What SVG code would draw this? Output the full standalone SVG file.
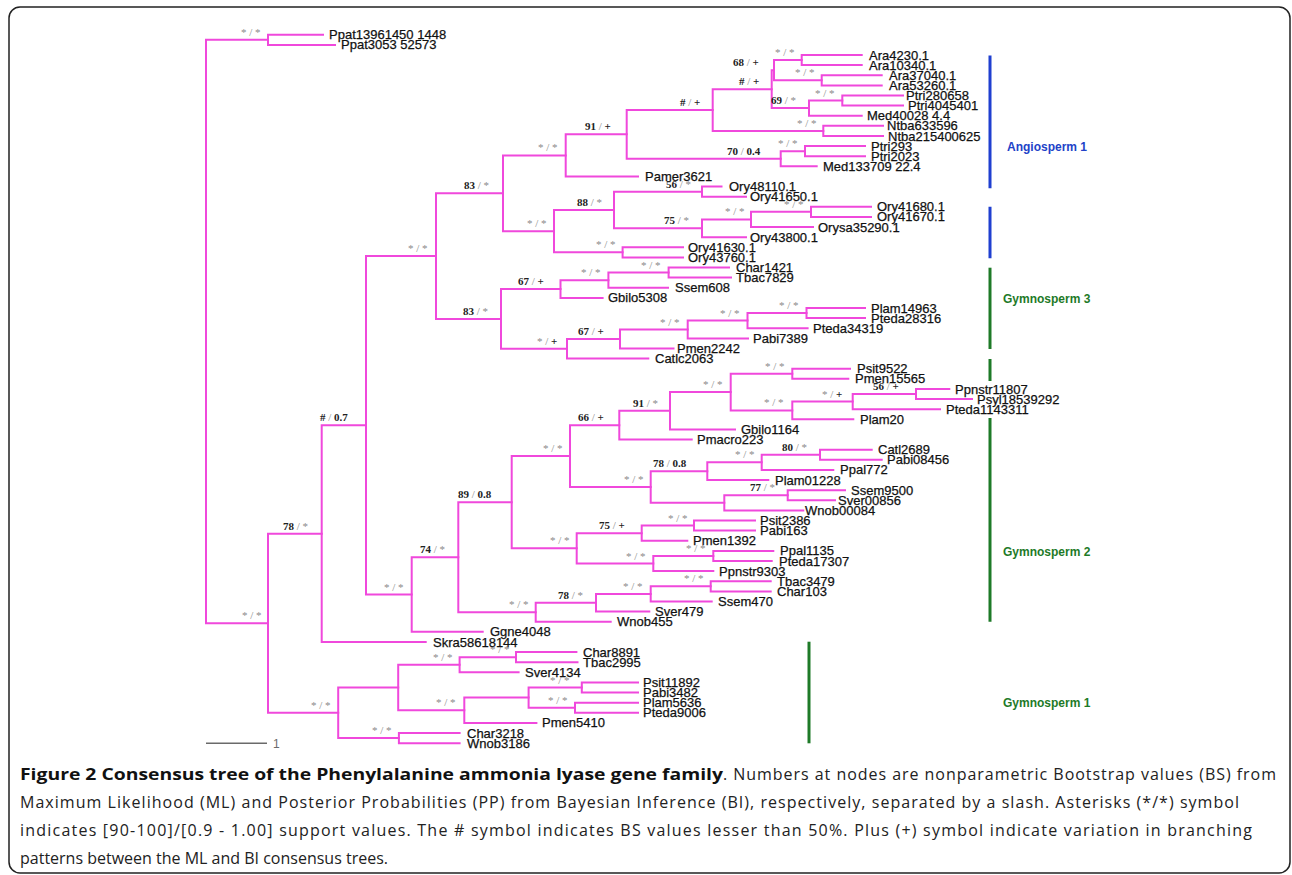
<svg xmlns="http://www.w3.org/2000/svg" width="1292" height="875" viewBox="0 0 1292 875">
<style>
.br{fill:none;stroke:#f048dc;stroke-width:2;stroke-linejoin:miter;stroke-linecap:square}
.lf{font-family:"Liberation Sans",Arial,sans-serif;font-size:13px;fill:#111;stroke:#111;stroke-width:0.25}
.sp{font-family:"Liberation Serif","Times New Roman",serif;font-size:11px;fill:#8a8a8a}
.b{font-weight:bold;fill:#222}
.grp{font-family:"Liberation Sans",Arial,sans-serif;font-size:12px;font-weight:bold}
.cap{font-family:"Open Sans","Noto Sans",sans-serif;font-size:16px;fill:#222}
</style>
<rect x="9" y="7" width="1281" height="866" rx="11" ry="11" fill="#fff" stroke="#222" stroke-width="1.5"/>

<g id="branches" class="br">
<path d="M323,34.8 H268 V44.9 H335"/>
<path d="M268,39.85 H206 V623.2 H268"/>
<path d="M861.7,55 H801.7 V65.1 H861.7"/>
<path d="M881.7,75.2 H821.7 V85.4 H881.7"/>
<path d="M801.7,60.05 H774 V80.3 H821.7"/>
<path d="M903,95.5 H842.3 V105.6 H903"/>
<path d="M842.3,100.55 H809 V115.7 H861.7"/>
<path d="M774,70.2 H771.7 V108.1 H809"/>
<path d="M883,125.8 H823.3 V136 H883"/>
<path d="M771.7,89.15 H712.7 V130.9 H823.3"/>
<path d="M865,146.1 H805 V156.2 H865"/>
<path d="M805,151.15 H780.7 V166.3 H816.7"/>
<path d="M712.7,110 H626.7 V158.7 H780.7"/>
<path d="M626.7,134.35 H565.7 V176.4 H638"/>
<path d="M721.5,186.6 H702 V196.7 H746"/>
<path d="M871,206.8 H811 V216.9 H871"/>
<path d="M811,211.85 H751 V227 H813"/>
<path d="M751,219.4 H702 V237.2 H746"/>
<path d="M702,191.65 H614 V228.3 H702"/>
<path d="M683,247.3 H622.6 V257.4 H683"/>
<path d="M614,210 H554 V252.35 H622.6"/>
<path d="M565.7,155.4 H503 V231.2 H554"/>
<path d="M729,267.5 H668.6 V277.6 H731"/>
<path d="M668.6,272.55 H608.4 V287.8 H668"/>
<path d="M608.4,280.2 H560.5 V297.9 H602.6"/>
<path d="M865,308 H806.5 V318.1 H865"/>
<path d="M806.5,313.05 H747.5 V328.2 H807.6"/>
<path d="M747.5,320.6 H687.7 V338.4 H748"/>
<path d="M687.7,329.5 H620 V348.5 H673.5"/>
<path d="M620,339 H567 V358.6 H648.3"/>
<path d="M560.5,289.05 H501 V348.8 H567"/>
<path d="M503,193.3 H436 V318.9 H501"/>
<path d="M850,368.7 H792.3 V378.8 H848.3"/>
<path d="M949.3,389 H916 V399.1 H972"/>
<path d="M916,394.05 H852.7 V409.2 H940"/>
<path d="M852.7,401.6 H792.3 V419.3 H853.3"/>
<path d="M792.3,373.75 H730.7 V410.45 H792.3"/>
<path d="M730.7,392.1 H670 V429.4 H735"/>
<path d="M670,410.75 H619.3 V439.6 H691.7"/>
<path d="M871.7,449.7 H820 V459.8 H881.7"/>
<path d="M820,454.75 H761.7 V469.9 H833.3"/>
<path d="M761.7,462.3 H707.3 V480 H768.3"/>
<path d="M845,490.2 H787.7 V500.3 H835"/>
<path d="M787.7,495.25 H724.3 V510.4 H803.3"/>
<path d="M707.3,471.15 H650.7 V502.8 H724.3"/>
<path d="M619.3,425.2 H570 V487 H650.7"/>
<path d="M755,520.5 H694 V530.6 H755"/>
<path d="M694,525.55 H641.7 V540.8 H687.3"/>
<path d="M773.3,550.9 H713.3 V561 H771.7"/>
<path d="M713.3,555.95 H653.3 V571.1 H713.3"/>
<path d="M641.7,533.2 H576.7 V563.5 H653.3"/>
<path d="M570,456.1 H511.7 V548.35 H576.7"/>
<path d="M770.7,581.2 H710.7 V591.4 H770.7"/>
<path d="M710.7,586.3 H650.7 V601.5 H711.7"/>
<path d="M650.7,593.9 H596 V611.6 H649.3"/>
<path d="M596,602.75 H535.7 V621.7 H610.7"/>
<path d="M511.7,502.2 H458.3 V612.2 H535.7"/>
<path d="M458.3,557.2 H411.7 V631.8 H482.7"/>
<path d="M436,256.1 H366 V594.5 H411.7"/>
<path d="M366,425.3 H321.7 V642 H425.7"/>
<path d="M576.4,652.1 H516 V662.2 H577.5"/>
<path d="M516,657.15 H459.6 V672.3 H518.6"/>
<path d="M638,682.4 H581.8 V692.6 H638"/>
<path d="M638,702.7 H575 V712.8 H638"/>
<path d="M581.8,687.5 H528.6 V707.75 H575"/>
<path d="M528.6,697.6 H464.3 V722.9 H536.4"/>
<path d="M459.6,664.7 H398.2 V710.25 H464.3"/>
<path d="M459.6,733 H398.9 V743.2 H459.6"/>
<path d="M398.2,687.5 H338.2 V738.1 H398.9"/>
<path d="M321.7,533.65 H268 V712.8 H338.2"/>
</g>

<g id="support-labels" class="sp">
<g id="n-ppat"><text x="241" y="35.8">* / *</text></g>
<g id="n-a68"><text x="733" y="66.2"><tspan class="b">68</tspan> / <tspan class="b">+</tspan></text></g>
<g id="n-ah1"><text x="739" y="85.1"><tspan class="b">#</tspan> / <tspan class="b">+</tspan></text></g>
<g id="n-ah2"><text x="680" y="106"><tspan class="b">#</tspan> / <tspan class="b">+</tspan></text></g>
<g id="n-a69"><text x="771" y="104.1"><tspan class="b">69</tspan> / *</text></g>
<g id="n-a1"><text x="775" y="56">* / *</text></g>
<g id="n-a2"><text x="795" y="76.3">* / *</text></g>
<g id="n-p1"><text x="815" y="96.5">* / *</text></g>
<g id="n-n1"><text x="797" y="126.9">* / *</text></g>
<g id="n-a70"><text x="727" y="154.7"><tspan class="b">70</tspan> / <tspan class="b">0.4</tspan></text></g>
<g id="n-p2"><text x="778" y="147.1">* / *</text></g>
<g id="n-a91"><text x="585" y="130.3"><tspan class="b">91</tspan> / <tspan class="b">+</tspan></text></g>
<g id="n-as"><text x="538" y="151.4">* / *</text></g>
<g id="n-a83"><text x="464" y="189.3"><tspan class="b">83</tspan> / *</text></g>
<g id="n-o88"><text x="577" y="206"><tspan class="b">88</tspan> / *</text></g>
<g id="n-o56"><text x="666" y="187.6"><tspan class="b">56</tspan> / *</text></g>
<g id="n-o75"><text x="664" y="224.3"><tspan class="b">75</tspan> / *</text></g>
<g id="n-o2"><text x="725" y="215.4">* / *</text></g>
<g id="n-o3"><text x="784" y="207.8">* / *</text></g>
<g id="n-os"><text x="527" y="227.2">* / *</text></g>
<g id="n-o4"><text x="596" y="248.3">* / *</text></g>
<g id="n-n436"><text x="408" y="252.1">* / *</text></g>
<g id="n-g83"><text x="463" y="314.9"><tspan class="b">83</tspan> / *</text></g>
<g id="n-g67a"><text x="518" y="285"><tspan class="b">67</tspan> / <tspan class="b">+</tspan></text></g>
<g id="n-g2"><text x="581" y="276.2">* / *</text></g>
<g id="n-g1"><text x="641" y="268.5">* / *</text></g>
<g id="n-gsp"><text x="537" y="344.8">* / <tspan class="b">+</tspan></text></g>
<g id="n-g67b"><text x="578" y="335"><tspan class="b">67</tspan> / <tspan class="b">+</tspan></text></g>
<g id="n-g5"><text x="660" y="325.5">* / *</text></g>
<g id="n-g4"><text x="720" y="316.6">* / *</text></g>
<g id="n-g3"><text x="779" y="309">* / *</text></g>
<g id="n-n366"><text x="320" y="421.3"><tspan class="b">#</tspan> / <tspan class="b">0.7</tspan></text></g>
<g id="n-q66"><text x="578" y="421.2"><tspan class="b">66</tspan> / <tspan class="b">+</tspan></text></g>
<g id="n-q91"><text x="633" y="406.7"><tspan class="b">91</tspan> / *</text></g>
<g id="n-q4"><text x="703" y="388.1">* / *</text></g>
<g id="n-q1"><text x="765" y="369.7">* / *</text></g>
<g id="n-q3"><text x="764" y="406.4">* / *</text></g>
<g id="n-q2"><text x="822" y="397.6">* / <tspan class="b">+</tspan></text></g>
<g id="n-q56"><text x="873" y="390"><tspan class="b">56</tspan> / <tspan class="b">+</tspan></text></g>
<g id="n-qs"><text x="543" y="452.1">* / *</text></g>
<g id="n-r4"><text x="624" y="483">* / *</text></g>
<g id="n-r78"><text x="653" y="467.1"><tspan class="b">78</tspan> / <tspan class="b">0.8</tspan></text></g>
<g id="n-r2"><text x="735" y="458.3">* / *</text></g>
<g id="n-r1"><text x="782" y="450.7"><tspan class="b">80</tspan> / *</text></g>
<g id="n-r77"><text x="750" y="491.2"><tspan class="b">77</tspan> / *</text></g>
<g id="n-n89"><text x="458" y="498.2"><tspan class="b">89</tspan> / <tspan class="b">0.8</tspan></text></g>
<g id="n-n74"><text x="420" y="553.2"><tspan class="b">74</tspan> / *</text></g>
<g id="n-ss"><text x="550" y="544.3">* / *</text></g>
<g id="n-s75"><text x="599" y="529.2"><tspan class="b">75</tspan> / <tspan class="b">+</tspan></text></g>
<g id="n-s1"><text x="668" y="521.5">* / *</text></g>
<g id="n-s3"><text x="626" y="559.5">* / *</text></g>
<g id="n-s2"><text x="686" y="552">* / *</text></g>
<g id="n-ts"><text x="509" y="608.2">* / *</text></g>
<g id="n-t78"><text x="558" y="598.7"><tspan class="b">78</tspan> / *</text></g>
<g id="n-t2"><text x="623" y="589.9">* / *</text></g>
<g id="n-t1"><text x="684" y="582.3">* / *</text></g>
<g id="n-n411"><text x="384" y="590.5">* / *</text></g>
<g id="n-n78"><text x="283" y="529.6"><tspan class="b">78</tspan> / *</text></g>
<g id="n-n268"><text x="242" y="619.2">* / *</text></g>
<g id="n-gs1"><text x="311" y="708.8">* / *</text></g>
<g id="n-u2"><text x="433" y="660.7">* / *</text></g>
<g id="n-u1"><text x="490" y="653.1">* / *</text></g>
<g id="n-v4"><text x="436" y="706.2">* / *</text></g>
<g id="n-v2"><text x="548" y="703.7">* / *</text></g>
<g id="n-v1"><text x="550" y="683.5">* / *</text></g>
<g id="n-w1"><text x="372" y="734.1">* / *</text></g>
</g>

<g id="leaves" class="lf">
<g id="leaf-Ppat13961450"><text x="329" y="39.3">Ppat13961450 1448</text></g>
<g id="leaf-Ppat3053"><text x="341" y="49.4">Ppat3053 52573</text></g>
<g id="leaf-Ara4230"><text x="869" y="59.5">Ara4230.1</text></g>
<g id="leaf-Ara10340"><text x="869" y="69.6">Ara10340.1</text></g>
<g id="leaf-Ara37040"><text x="889" y="79.7">Ara37040.1</text></g>
<g id="leaf-Ara53260"><text x="889" y="89.9">Ara53260.1</text></g>
<g id="leaf-Ptri280658"><text x="906" y="100">Ptri280658</text></g>
<g id="leaf-Ptri4045401"><text x="908" y="110.1">Ptri4045401</text></g>
<g id="leaf-Med40028"><text x="867" y="120.2">Med40028 4.4</text></g>
<g id="leaf-Ntba633596"><text x="887" y="130.3">Ntba633596</text></g>
<g id="leaf-Ntba215400625"><text x="888" y="140.5">Ntba215400625</text></g>
<g id="leaf-Ptri293"><text x="871" y="150.6">Ptri293</text></g>
<g id="leaf-Ptri2023"><text x="871" y="160.7">Ptri2023</text></g>
<g id="leaf-Med133709"><text x="823" y="170.8">Med133709 22.4</text></g>
<g id="leaf-Pamer3621"><text x="645" y="180.9">Pamer3621</text></g>
<g id="leaf-Ory48110"><text x="729" y="191.1">Ory48110.1</text></g>
<g id="leaf-Ory41650"><text x="750" y="201.2">Ory41650.1</text></g>
<g id="leaf-Ory41680"><text x="877" y="211.3">Ory41680.1</text></g>
<g id="leaf-Ory41670"><text x="877" y="221.4">Ory41670.1</text></g>
<g id="leaf-Orysa35290"><text x="818" y="231.5">Orysa35290.1</text></g>
<g id="leaf-Ory43800"><text x="750" y="241.7">Ory43800.1</text></g>
<g id="leaf-Ory41630"><text x="688" y="251.8">Ory41630.1</text></g>
<g id="leaf-Ory43760"><text x="688" y="261.9">Ory43760.1</text></g>
<g id="leaf-Char1421"><text x="736" y="272">Char1421</text></g>
<g id="leaf-Tbac7829"><text x="736" y="282.1">Tbac7829</text></g>
<g id="leaf-Ssem608"><text x="675" y="292.3">Ssem608</text></g>
<g id="leaf-Gbilo5308"><text x="608" y="302.4">Gbilo5308</text></g>
<g id="leaf-Plam14963"><text x="871" y="312.5">Plam14963</text></g>
<g id="leaf-Pteda28316"><text x="871" y="322.6">Pteda28316</text></g>
<g id="leaf-Pteda34319"><text x="813" y="332.7">Pteda34319</text></g>
<g id="leaf-Pabi7389"><text x="753" y="342.9">Pabi7389</text></g>
<g id="leaf-Pmen2242"><text x="677" y="353">Pmen2242</text></g>
<g id="leaf-Catlc2063"><text x="655" y="363.1">Catlc2063</text></g>
<g id="leaf-Psit9522"><text x="857" y="373.2">Psit9522</text></g>
<g id="leaf-Pmen15565"><text x="855" y="383.3">Pmen15565</text></g>
<g id="leaf-Ppnstr11807"><text x="955" y="393.5">Ppnstr11807</text></g>
<g id="leaf-Psyl18539292"><text x="977" y="403.6">Psyl18539292</text></g>
<g id="leaf-Pteda1143311"><text x="946" y="413.7">Pteda1143311</text></g>
<g id="leaf-Plam20"><text x="860" y="423.8">Plam20</text></g>
<g id="leaf-Gbilo1164"><text x="741" y="433.9">Gbilo1164</text></g>
<g id="leaf-Pmacro223"><text x="697" y="444.1">Pmacro223</text></g>
<g id="leaf-Catl2689"><text x="878" y="454.2">Catl2689</text></g>
<g id="leaf-Pabi08456"><text x="887" y="464.3">Pabi08456</text></g>
<g id="leaf-Ppal772"><text x="840" y="474.4">Ppal772</text></g>
<g id="leaf-Plam01228"><text x="775" y="484.5">Plam01228</text></g>
<g id="leaf-Ssem9500"><text x="851" y="494.7">Ssem9500</text></g>
<g id="leaf-Sver00856"><text x="838" y="504.8">Sver00856</text></g>
<g id="leaf-Wnob00084"><text x="805" y="514.9">Wnob00084</text></g>
<g id="leaf-Psit2386"><text x="760" y="525">Psit2386</text></g>
<g id="leaf-Pabi163"><text x="760" y="535.1">Pabi163</text></g>
<g id="leaf-Pmen1392"><text x="693" y="545.3">Pmen1392</text></g>
<g id="leaf-Ppal1135"><text x="780" y="555.4">Ppal1135</text></g>
<g id="leaf-Pteda17307"><text x="779" y="565.5">Pteda17307</text></g>
<g id="leaf-Ppnstr9303"><text x="719" y="575.6">Ppnstr9303</text></g>
<g id="leaf-Tbac3479"><text x="777" y="585.7">Tbac3479</text></g>
<g id="leaf-Char103"><text x="777" y="595.9">Char103</text></g>
<g id="leaf-Ssem470"><text x="718" y="606">Ssem470</text></g>
<g id="leaf-Sver479"><text x="655" y="616.1">Sver479</text></g>
<g id="leaf-Wnob455"><text x="617" y="626.2">Wnob455</text></g>
<g id="leaf-Ggne4048"><text x="490" y="636.3">Ggne4048</text></g>
<g id="leaf-Skra58618144"><text x="433" y="646.5">Skra58618144</text></g>
<g id="leaf-Char8891"><text x="583" y="656.6">Char8891</text></g>
<g id="leaf-Tbac2995"><text x="583" y="666.7">Tbac2995</text></g>
<g id="leaf-Sver4134"><text x="525" y="676.8">Sver4134</text></g>
<g id="leaf-Psit11892"><text x="643" y="686.9">Psit11892</text></g>
<g id="leaf-Pabi3482"><text x="643" y="697.1">Pabi3482</text></g>
<g id="leaf-Plam5636"><text x="643" y="707.2">Plam5636</text></g>
<g id="leaf-Pteda9006"><text x="643" y="717.3">Pteda9006</text></g>
<g id="leaf-Pmen5410"><text x="542" y="727.4">Pmen5410</text></g>
<g id="leaf-Char3218"><text x="467" y="737.5">Char3218</text></g>
<g id="leaf-Wnob3186"><text x="467" y="747.7">Wnob3186</text></g>
</g>

<g id="group-bars" stroke-width="3" fill="none">
<g id="bar-angiosperm1"><path d="M990,55.5 V188.3 M990,206.7 V258.3" stroke="#1f3fd0"/></g>
<g id="bar-gymnosperm3"><path d="M990,267.7 V349" stroke="#1e7a28"/></g>
<g id="bar-gymnosperm2"><path d="M990,359 V381 M990,418 V621.7" stroke="#1e7a28"/></g>
<g id="bar-gymnosperm1"><path d="M809,641.7 V743.3" stroke="#1e7a28"/></g>
</g>
<g id="group-labels" class="grp">
<g id="lab-angiosperm1"><text x="1007" y="151" fill="#2242c8">Angiosperm 1</text></g>
<g id="lab-gymnosperm3"><text x="1003" y="302.5" fill="#1e7a28">Gymnosperm 3</text></g>
<g id="lab-gymnosperm2"><text x="1003" y="556" fill="#1e7a28">Gymnosperm 2</text></g>
<g id="lab-gymnosperm1"><text x="1003" y="707" fill="#1e7a28">Gymnosperm 1</text></g>
</g>

<g id="scale-bar">
<line x1="206" y1="743.3" x2="267" y2="743.3" stroke="#6a6a6a" stroke-width="1.5"/>
<text x="273" y="748" font-family="Liberation Sans,Arial,sans-serif" font-size="12" fill="#6a6a6a">1</text>
</g>

<g id="caption" class="cap">
<text x="20" y="780" font-weight="bold" font-size="16.5" fill="#111" textLength="703" lengthAdjust="spacingAndGlyphs">Figure 2 Consensus tree of the Phenylalanine ammonia lyase gene family</text>
<text x="723" y="780" textLength="553" lengthAdjust="spacing">. Numbers at nodes are nonparametric Bootstrap values (BS) from</text>
<text x="20" y="808" textLength="1219" lengthAdjust="spacing">Maximum Likelihood (ML) and Posterior Probabilities (PP) from Bayesian Inference (BI), respectively, separated by a slash. Asterisks (*/*) symbol</text>
<text x="20" y="836" textLength="1232" lengthAdjust="spacing">indicates [90-100]/[0.9 - 1.00] support values. The # symbol indicates BS values lesser than 50%. Plus (+) symbol indicate variation in branching</text>
<text x="20" y="864">patterns between the ML and BI consensus trees.</text>
</g>
</svg>
